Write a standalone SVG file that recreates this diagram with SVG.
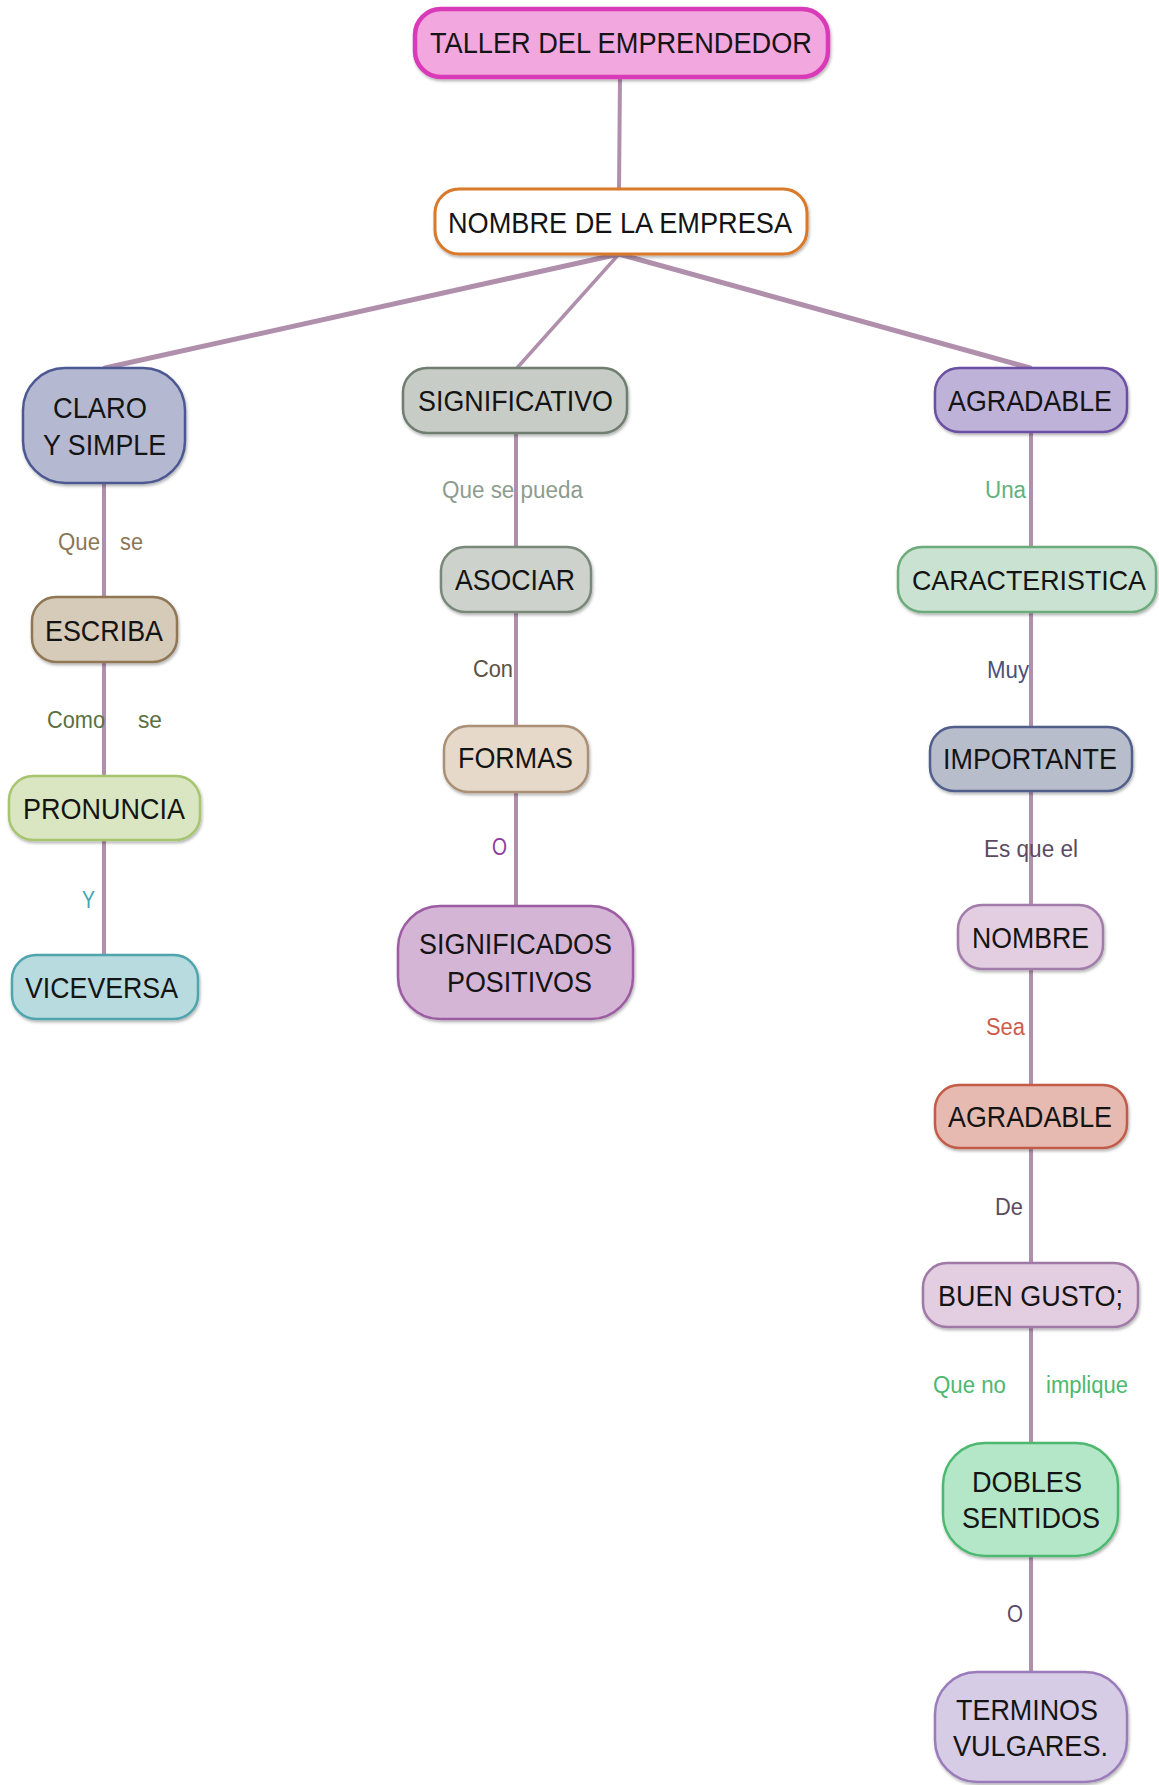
<svg xmlns="http://www.w3.org/2000/svg" width="1159" height="1785" viewBox="0 0 1159 1785">
<style>
.n{stroke-width:2.5}
.t{font-family:"Liberation Sans",Arial,sans-serif;font-size:29px;fill:#141414;text-anchor:middle}
.l{font-family:"Liberation Sans",Arial,sans-serif;font-size:23px}
.c{stroke:#b08fac;stroke-width:4;fill:none;stroke-linecap:round}
</style>
<defs>
<filter id="sh" x="-10%" y="-10%" width="120%" height="130%">
<feDropShadow dx="1" dy="2" stdDeviation="1.5" flood-color="#000" flood-opacity="0.3"/>
</filter>
</defs>
<rect width="1159" height="1785" fill="#ffffff"/>
<g id="connectors">
<line class="c" x1="620" y1="77" x2="619" y2="189"/>
<line class="c" x1="619" y1="254" x2="105" y2="368" style="stroke-width:5"/>
<line class="c" x1="619" y1="254" x2="517" y2="368" style="stroke-width:3.5"/>
<line class="c" x1="619" y1="254" x2="1030" y2="368" style="stroke-width:5"/>
<line class="c" x1="104" y1="483" x2="104" y2="597"/>
<line class="c" x1="104" y1="662" x2="104" y2="776"/>
<line class="c" x1="104" y1="840" x2="104" y2="955"/>
<line class="c" x1="516" y1="433" x2="516" y2="547"/>
<line class="c" x1="516" y1="612" x2="516" y2="726"/>
<line class="c" x1="516" y1="792" x2="516" y2="906"/>
<line class="c" x1="1031" y1="432" x2="1031" y2="547"/>
<line class="c" x1="1031" y1="612" x2="1031" y2="727"/>
<line class="c" x1="1031" y1="791" x2="1031" y2="905"/>
<line class="c" x1="1031" y1="969" x2="1031" y2="1085"/>
<line class="c" x1="1031" y1="1148" x2="1031" y2="1263"/>
<line class="c" x1="1031" y1="1327" x2="1031" y2="1443"/>
<line class="c" x1="1031" y1="1556" x2="1031" y2="1672"/>
</g>
<g id="labels">
<text class="l" fill="#8b7755" y="550"><tspan x="58" textLength="42" lengthAdjust="spacingAndGlyphs">Que</tspan><tspan x="120" textLength="23" lengthAdjust="spacingAndGlyphs">se</tspan></text>
<text class="l" fill="#5b7042" y="728"><tspan x="47" textLength="58" lengthAdjust="spacingAndGlyphs">Como</tspan><tspan x="138" textLength="24" lengthAdjust="spacingAndGlyphs">se</tspan></text>
<text class="l" fill="#3fa7b1" x="82" y="908" textLength="13" lengthAdjust="spacingAndGlyphs">Y</text>
<text class="l" fill="#8d9c8d" x="442" y="498" textLength="141" lengthAdjust="spacingAndGlyphs">Que se pueda</text>
<text class="l" fill="#5b5244" x="473" y="677" textLength="40" lengthAdjust="spacingAndGlyphs">Con</text>
<text class="l" fill="#8c3c9c" x="492" y="855" textLength="15" lengthAdjust="spacingAndGlyphs">O</text>
<text class="l" fill="#62b07d" x="985" y="498" textLength="41" lengthAdjust="spacingAndGlyphs">Una</text>
<text class="l" fill="#4b5179" x="987" y="678" textLength="42" lengthAdjust="spacingAndGlyphs">Muy</text>
<text class="l" fill="#5b4b62" x="984" y="857" textLength="94" lengthAdjust="spacingAndGlyphs">Es que el</text>
<text class="l" fill="#cd5b4b" x="986" y="1035" textLength="39" lengthAdjust="spacingAndGlyphs">Sea</text>
<text class="l" fill="#5b4b5d" x="995" y="1215" textLength="28" lengthAdjust="spacingAndGlyphs">De</text>
<text class="l" fill="#4cb96f" y="1393"><tspan x="933" textLength="73" lengthAdjust="spacingAndGlyphs">Que no</tspan><tspan x="1046" textLength="82" lengthAdjust="spacingAndGlyphs">implique</tspan></text>
<text class="l" fill="#5b4b6b" x="1007" y="1622" textLength="16" lengthAdjust="spacingAndGlyphs">O</text>
</g>
<g id="n-taller">
<rect x="415" y="9" width="413" height="68" rx="26" fill="#f2a7de" stroke="#d93bb8" stroke-width="4.5" filter="url(#sh)"/>
<text class="t" x="621" y="53" textLength="382" lengthAdjust="spacingAndGlyphs">TALLER DEL EMPRENDEDOR</text>
</g>
<g id="n-nombre-empresa">
<rect x="435" y="189" width="372" height="65" rx="24" fill="#ffffff" stroke="#d9792b" stroke-width="3" filter="url(#sh)"/>
<text class="t" x="620" y="233" textLength="344" lengthAdjust="spacingAndGlyphs">NOMBRE DE LA EMPRESA</text>
</g>
<g id="n-claro">
<rect class="n" x="23" y="368" width="162" height="115" rx="42" fill="#b4b8d1" stroke="#4c5892" filter="url(#sh)"/>
<text class="t" x="100" y="418" textLength="94" lengthAdjust="spacingAndGlyphs">CLARO</text>
<text class="t" x="104.5" y="455" textLength="123" lengthAdjust="spacingAndGlyphs">Y SIMPLE</text>
</g>
<g id="n-escriba">
<rect class="n" x="32" y="597" width="145" height="65" rx="24" fill="#d6cab8" stroke="#8f7755" filter="url(#sh)"/>
<text class="t" x="104" y="641" textLength="118" lengthAdjust="spacingAndGlyphs">ESCRIBA</text>
</g>
<g id="n-pronuncia">
<rect class="n" x="9" y="776" width="191" height="64" rx="24" fill="#dae6c1" stroke="#a7c46f" filter="url(#sh)"/>
<text class="t" x="104" y="819" textLength="162" lengthAdjust="spacingAndGlyphs">PRONUNCIA</text>
</g>
<g id="n-viceversa">
<rect class="n" x="12" y="955" width="186" height="64" rx="24" fill="#b8dbdf" stroke="#50a4ad" filter="url(#sh)"/>
<text class="t" x="101.5" y="998" textLength="153" lengthAdjust="spacingAndGlyphs">VICEVERSA</text>
</g>
<g id="n-significativo">
<rect class="n" x="403" y="368" width="224" height="65" rx="24" fill="#c8ccc6" stroke="#6f7e70" filter="url(#sh)"/>
<text class="t" x="515.5" y="411" textLength="195" lengthAdjust="spacingAndGlyphs">SIGNIFICATIVO</text>
</g>
<g id="n-asociar">
<rect class="n" x="441" y="547" width="150" height="65" rx="24" fill="#cdd2cc" stroke="#7a887a" filter="url(#sh)"/>
<text class="t" x="515" y="590" textLength="120" lengthAdjust="spacingAndGlyphs">ASOCIAR</text>
</g>
<g id="n-formas">
<rect class="n" x="444" y="726" width="144" height="66" rx="24" fill="#e6d9c9" stroke="#a99077" filter="url(#sh)"/>
<text class="t" x="515.5" y="768" textLength="115" lengthAdjust="spacingAndGlyphs">FORMAS</text>
</g>
<g id="n-significados">
<rect class="n" x="398" y="906" width="235" height="113" rx="42" fill="#d5b5d5" stroke="#9c5ba2" filter="url(#sh)"/>
<text class="t" x="515.5" y="954" textLength="193" lengthAdjust="spacingAndGlyphs">SIGNIFICADOS</text>
<text class="t" x="519.5" y="992" textLength="145" lengthAdjust="spacingAndGlyphs">POSITIVOS</text>
</g>
<g id="n-agradable1">
<rect class="n" x="935" y="368" width="192" height="64" rx="24" fill="#bfb2d9" stroke="#6b50a2" filter="url(#sh)"/>
<text class="t" x="1030" y="411" textLength="164" lengthAdjust="spacingAndGlyphs">AGRADABLE</text>
</g>
<g id="n-caracteristica">
<rect class="n" x="898" y="547" width="258" height="65" rx="24" fill="#c9e2d1" stroke="#6cab7c" filter="url(#sh)"/>
<text class="t" x="1029" y="590" textLength="234" lengthAdjust="spacingAndGlyphs" style="font-size:28px">CARACTERISTICA</text>
</g>
<g id="n-importante">
<rect class="n" x="930" y="727" width="202" height="64" rx="24" fill="#b8bdcc" stroke="#505e8a" filter="url(#sh)"/>
<text class="t" x="1030" y="769" textLength="174" lengthAdjust="spacingAndGlyphs">IMPORTANTE</text>
</g>
<g id="n-nombre">
<rect class="n" x="958" y="905" width="145" height="64" rx="24" fill="#e3cde1" stroke="#a27baa" filter="url(#sh)"/>
<text class="t" x="1030.5" y="948" textLength="117" lengthAdjust="spacingAndGlyphs">NOMBRE</text>
</g>
<g id="n-agradable2">
<rect class="n" x="935" y="1085" width="192" height="63" rx="24" fill="#e6bab1" stroke="#c25b49" filter="url(#sh)"/>
<text class="t" x="1030" y="1127" textLength="164" lengthAdjust="spacingAndGlyphs">AGRADABLE</text>
</g>
<g id="n-buen-gusto">
<rect class="n" x="923" y="1263" width="215" height="64" rx="24" fill="#e3cde0" stroke="#a07aa6" filter="url(#sh)"/>
<text class="t" x="1030.5" y="1306" textLength="185" lengthAdjust="spacingAndGlyphs">BUEN GUSTO;</text>
</g>
<g id="n-dobles">
<rect class="n" x="943" y="1443" width="175" height="113" rx="42" fill="#b4e6c8" stroke="#4db870" filter="url(#sh)"/>
<text class="t" x="1027" y="1492" textLength="110" lengthAdjust="spacingAndGlyphs">DOBLES</text>
<text class="t" x="1031" y="1528" textLength="138" lengthAdjust="spacingAndGlyphs">SENTIDOS</text>
</g>
<g id="n-terminos">
<rect class="n" x="935" y="1672" width="192" height="110" rx="42" fill="#d6cce6" stroke="#9b7bba" filter="url(#sh)"/>
<text class="t" x="1027" y="1720" textLength="142" lengthAdjust="spacingAndGlyphs">TERMINOS</text>
<text class="t" x="1030.5" y="1756" textLength="155" lengthAdjust="spacingAndGlyphs">VULGARES.</text>
</g>
</svg>
